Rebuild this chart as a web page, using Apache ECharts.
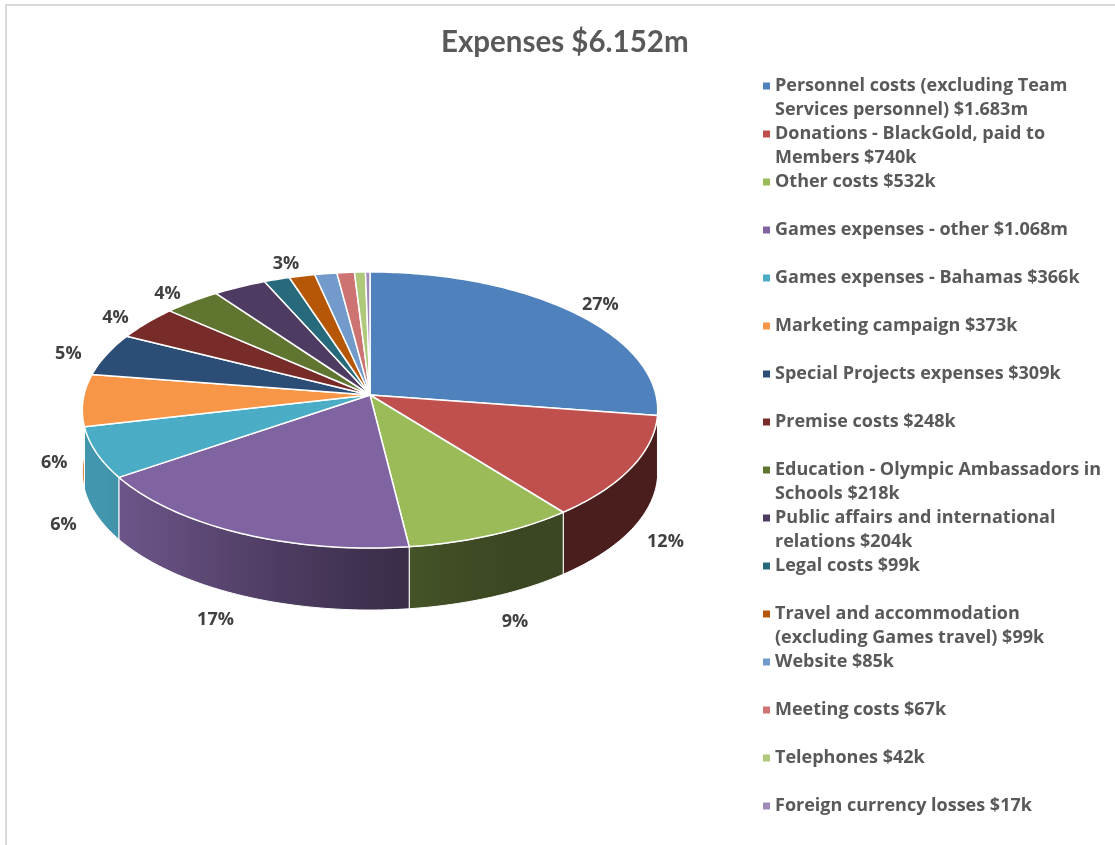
<!DOCTYPE html>
<html>
<head>
<meta charset="utf-8">
<title>Expenses $6.152m</title>
<script src="https://cdn.jsdelivr.net/npm/echarts@6/dist/echarts.min.js"></script>
<style>
  html, body { margin: 0; padding: 0; background: #ffffff; }
  #chart { width: 1115px; height: 845px; }
</style>
</head>
<body>
<div id="chart"></div>
<script>
// Expense categories (legend wording, wrapped as shown) and their amounts in $k
const categories = [
  'Personnel costs (excluding Team\nServices personnel) $1.683m',
  'Donations - BlackGold, paid to\nMembers $740k',
  'Other costs $532k',
  'Games expenses - other $1.068m',
  'Games expenses - Bahamas $366k',
  'Marketing campaign $373k',
  'Special Projects expenses $309k',
  'Premise costs $248k',
  'Education - Olympic Ambassadors in\nSchools $218k',
  'Public affairs and international\nrelations $204k',
  'Legal costs $99k',
  'Travel and accommodation\n(excluding Games travel) $99k',
  'Website $85k',
  'Meeting costs $67k',
  'Telephones $42k',
  'Foreign currency losses $17k'
];
const values = [1683, 740, 532, 1068, 366, 373, 309, 248, 218, 204, 99, 99, 85, 67, 42, 17];
const colors = [
  '#4f81bd', '#c0504d', '#9bbb59', '#8064a2', '#4bacc6', '#f79646',
  '#2c4d75', '#772c2a', '#5f7530', '#4d3b62', '#276a7c', '#b65708',
  '#729aca', '#cd7371', '#afc97a', '#9f8ab9'
];
const chartTitle = 'Expenses $6.152m';

// ---- layout of the tilted pie (perspective projection of a disc) ----
const TITLE_FONT = 'Lato, "Open Sans", "DejaVu Sans", sans-serif';
const FONT = '"Open Sans", Lato, "DejaVu Sans", sans-serif';
const PIE = { cx: 370, cy: 395, a: 286, b: 136.4, k: 0.1087, depth: 62 };
const LABEL_MIN_SHARE = 0.025;
const labelNudge = { 9: [64, -13] };   // keeps the small top label clear of its neighbours

const total = values.reduce((s, v) => s + v, 0);
const startShare = [];
values.reduce((acc, v) => { startShare.push(acc / total); return acc + v; }, 0);

// theta: clockwise from 12 o'clock, r: radius fraction, drop: extra screen offset downward
function project(theta, r, drop) {
  const u = r * Math.sin(theta);
  const v = -r * Math.cos(theta);
  const w = 1 - PIE.k * v;
  return [PIE.cx + PIE.a * u / w, PIE.cy + PIE.b * v / w + (drop || 0)];
}

function arc(t0, t1, r, drop) {
  const n = Math.max(2, Math.ceil((t1 - t0) / (Math.PI / 180)) + 1);
  const pts = [];
  for (let j = 0; j < n; j++) {
    pts.push(project(t0 + (t1 - t0) * j / (n - 1), r, drop));
  }
  return pts;
}

function shade(hex, f) {
  const n = parseInt(hex.slice(1), 16);
  const r = Math.round(((n >> 16) & 255) * f);
  const g = Math.round(((n >> 8) & 255) * f);
  const b = Math.round((n & 255) * f);
  return 'rgb(' + r + ',' + g + ',' + b + ')';
}

// light falls from the left: walls facing left stay bright, front/right walls go dark
function wallFactor(theta) {
  const deg = theta * 180 / Math.PI;
  let t = (deg - 150) / 100;
  t = Math.max(0, Math.min(1, t));
  return 0.38 + 0.5 * t * t * (3 - 2 * t);
}

function renderSlice(params, api) {
  const i = params.seriesIndex;
  const value = api.value(0);
  const t0 = startShare[i] * Math.PI * 2;
  const t1 = t0 + value / total * Math.PI * 2;
  const color = colors[i];
  const children = [];

  // outer wall, only the part facing the viewer
  const w0 = Math.max(t0, Math.PI / 2);
  const w1 = Math.min(t1, Math.PI * 1.5);
  if (w1 > w0) {
    const topEdge = arc(w0, w1, 1, 0);
    const bottomEdge = arc(w0, w1, 1, PIE.depth).reverse();
    const pts = topEdge.concat(bottomEdge);
    const xs = pts.map(p => p[0]);
    const minX = Math.min.apply(null, xs);
    const maxX = Math.max.apply(null, xs);
    const span = Math.max(1, maxX - minX);
    const stops = [];
    const ns = 8;
    for (let j = 0; j <= ns; j++) {
      const t = w0 + (w1 - w0) * j / ns;
      const x = project(t, 1, 0)[0];
      stops.push({ offset: Math.max(0, Math.min(1, (x - minX) / span)), color: shade(color, wallFactor(t)) });
    }
    stops.sort((p, q) => p.offset - q.offset);
    children.push({
      type: 'polygon',
      z2: 1,
      shape: { points: pts },
      style: {
        fill: new echarts.graphic.LinearGradient(0, 0, 1, 0, stops),
        stroke: '#ffffff',
        lineWidth: 1
      }
    });
  }

  // top face
  const topPts = [[PIE.cx, PIE.cy]].concat(arc(t0, t1, 1, 0));
  children.push({
    type: 'polygon',
    z2: 2,
    shape: { points: topPts },
    style: { fill: color, stroke: '#ffffff', lineWidth: 1.5, lineJoin: 'round' }
  });

  // percentage label, set outside the rim (below the wall for front slices)
  if (value / total >= LABEL_MIN_SHARE) {
    const mid = (t0 + t1) / 2;
    const c = Math.cos(mid);
    const s = Math.sin(mid);
    const front = c < 0;
    let p;
    if (front) {
      p = project(mid, 1.1, PIE.depth - 10 * c);
      p[0] += 28 * s * c * c;
    } else {
      p = project(mid, 1.15, 5);
    }
    const nudge = labelNudge[i] || [0, 0];
    children.push({
      type: 'text',
      z2: 3,
      style: {
        text: Math.round(value / total * 100) + '%',
        x: p[0] + nudge[0],
        y: p[1] + nudge[1],
        align: 'center',
        verticalAlign: 'middle',
        fill: '#404040',
        font: 'bold 18px ' + FONT
      }
    });
  }
  return { type: 'group', children: children };
}

const series = categories.map((name, i) => ({
  type: 'custom',
  name: name,
  coordinateSystem: 'none',
  renderItem: renderSlice,
  itemStyle: { color: colors[i] },
  data: [values[i]],
  animation: false
}));

// each legend entry is laid out as three rows (blank / first line / second line)
// so that the marker lines up with the first line of text
function legendText(name) {
  const lines = name.split('\n');
  return ' \n' + lines[0] + '\n' + (lines[1] || ' ');
}

const chart = echarts.init(document.getElementById('chart'), null, { renderer: 'canvas' });
chart.setOption({
  backgroundColor: '#ffffff',
  animation: false,
  title: {
    text: chartTitle,
    left: 441,
    top: 27,
    padding: 0,
    textStyle: { color: '#595959', fontFamily: TITLE_FONT, fontWeight: 'bold', fontSize: 29.5 }
  },
  graphic: [{
    type: 'rect',
    silent: true,
    z: -10,
    shape: { x: 6, y: 5, width: 1300, height: 1000 },
    style: { fill: 'none', stroke: '#d9d9d9', lineWidth: 2 }
  }],
  legend: {
    orient: 'vertical',
    left: 763,
    top: 50,
    padding: 0,
    icon: 'rect',
    itemWidth: 7,
    itemHeight: 7,
    itemGap: -24,
    selectedMode: false,
    data: categories,
    formatter: legendText,
    textStyle: {
      color: '#595959',
      fontFamily: FONT,
      fontWeight: 'bold',
      fontSize: 18,
      lineHeight: 24
    }
  },
  series: series
});
</script>
</body>
</html>
